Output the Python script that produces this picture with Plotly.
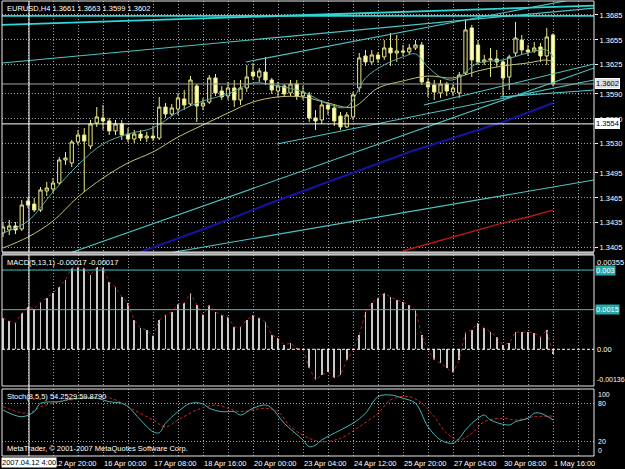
import plotly.graph_objects as go

# ---------------- data ----------------
SYMBOL = "EURUSD,H4"
BARS = list(range(89))
OPEN = [1.34228,1.34264,1.34312,1.34276,1.34612,1.34576,1.34504,1.34733,1.34757,1.34829,
        1.35106,1.35070,1.35322,1.35406,1.35274,1.35551,1.35611,1.35575,1.35455,1.35539,
        1.35418,1.35358,1.35418,1.35370,1.35394,1.35370,1.35743,1.35659,1.35719,1.35840,
        1.35779,1.35996,1.35755,1.35803,1.36092,1.35936,1.35876,1.35972,1.35828,1.35972,
        1.36164,1.36104,1.36164,1.36068,1.35936,1.35996,1.35912,1.36020,1.35876,1.35888,
        1.35611,1.35587,1.35767,1.35731,1.35635,1.35503,1.35623,1.35972,1.36357,1.36285,
        1.36369,1.36345,1.36453,1.36393,1.36417,1.36405,1.36453,1.36489,1.36044,1.36008,
        1.35912,1.36020,1.35924,1.35912,1.36152,1.36694,1.36489,1.36285,1.36309,1.36321,
        1.36285,1.36104,1.36393,1.36549,1.36429,1.36417,1.36465,1.36357,1.3661]
HIGH = [1.34360,1.34384,1.34360,1.34625,1.34661,1.34649,1.34781,1.34841,1.34889,1.35142,
        1.35202,1.35346,1.35467,1.35491,1.35587,1.35743,1.35767,1.35611,1.35587,1.35587,
        1.35491,1.35467,1.35467,1.35443,1.35515,1.35864,1.35791,1.35779,1.35912,1.35948,
        1.36116,1.36020,1.35852,1.36128,1.36140,1.35996,1.36044,1.36068,1.36068,1.36249,
        1.36273,1.36213,1.36345,1.36092,1.36044,1.36020,1.36068,1.36068,1.35996,1.35924,
        1.35707,1.35828,1.35803,1.35779,1.35683,1.35683,1.35924,1.36393,1.36429,1.36429,
        1.36405,1.36549,1.36633,1.36609,1.36489,1.36501,1.36549,1.36525,1.36092,1.36068,
        1.36068,1.36044,1.36020,1.36164,1.36790,1.36730,1.36549,1.36369,1.36453,1.36429,
        1.36309,1.36369,1.36766,1.36609,1.36489,1.36525,1.36513,1.36694,1.3663]
LOW = [1.34179,1.34203,1.34215,1.34252,1.34528,1.34480,1.34480,1.34673,1.34709,1.34805,
       1.35046,1.35021,1.35286,1.34721,1.35238,1.35503,1.35467,1.35406,1.35406,1.35346,
       1.35322,1.35310,1.35334,1.35322,1.35334,1.35346,1.35611,1.35635,1.35647,1.35707,
       1.35755,1.35563,1.35707,1.35779,1.35876,1.35828,1.35828,1.35743,1.35767,1.35924,
       1.36068,1.36044,1.36008,1.35900,1.35864,1.35864,1.35876,1.35828,1.35828,1.35563,
       1.35467,1.35539,1.35647,1.35515,1.35467,1.35491,1.35587,1.35924,1.36237,1.36249,
       1.36273,1.36309,1.36237,1.36285,1.36357,1.36369,1.36429,1.36008,1.35864,1.35828,
       1.35852,1.35876,1.35876,1.35852,1.36128,1.36104,1.36249,1.36249,1.36104,1.36225,
       1.35864,1.35948,1.36357,1.36369,1.36357,1.36393,1.36285,1.36249,1.3599]
CLOSE = [1.34300,1.34312,1.34264,1.34564,1.34564,1.34504,1.34745,1.34769,1.34829,1.35106,
         1.35130,1.35322,1.35406,1.35334,1.35539,1.35623,1.35575,1.35455,1.35539,1.35406,
         1.35358,1.35418,1.35370,1.35394,1.35370,1.35743,1.35659,1.35731,1.35852,1.35767,
         1.36068,1.35755,1.35791,1.36092,1.35912,1.35864,1.35972,1.35828,1.35972,1.36104,
         1.36116,1.36177,1.36068,1.35948,1.35996,1.35900,1.36020,1.35876,1.35924,1.35611,
         1.35575,1.35767,1.35719,1.35575,1.35503,1.35647,1.35888,1.36333,1.36285,1.36369,
         1.36321,1.36453,1.36393,1.36417,1.36405,1.36453,1.36489,1.36044,1.35984,1.35924,
         1.36020,1.35936,1.35972,1.36128,1.36670,1.36309,1.36285,1.36309,1.36321,1.36285,
         1.36092,1.36345,1.36573,1.36429,1.36405,1.36453,1.36357,1.36585,1.3602]

FAST_MA_BARS = [0,4,8,12,16,20,24,28,32,36,40,44,48,52,55,58,61,64,66,68,70,72,74,76,80,84,87,88]
FAST_MA = [1.34227,1.34372,1.34721,1.35046,1.35298,1.35418,1.35491,1.35683,1.35815,1.35900,
           1.36032,1.35996,1.35924,1.35779,1.35743,1.36092,1.36249,1.36345,1.36381,1.36224,
           1.36104,1.36068,1.36164,1.36273,1.36309,1.36393,1.36429,1.36345]
SLOW_MA_BARS = [0,4,8,12,16,20,24,28,32,36,40,44,48,52,56,60,64,68,72,76,80,84,87,88]
SLOW_MA = [1.34047,1.34179,1.34372,1.34661,1.34889,1.35070,1.35202,1.35382,1.35527,1.35671,
           1.35803,1.35864,1.35864,1.35791,1.35743,1.35972,1.36056,1.36116,1.36092,1.36177,
           1.36237,1.36273,1.36309,1.36285]
BLUE_MA_BARS = [22,33,42,53,65,72,80,88]
BLUE_MA = [1.33999,1.34300,1.34564,1.34865,1.35202,1.35370,1.35563,1.35791]
RED_MA_BARS = [64,72,80,84,88]
RED_MA = [1.34011,1.34179,1.34348,1.34420,1.34504]

# trend lines: (bar1, price1, bar2, price2)
TL_HORIZ = [(-1.0, 1.3684, 96.0, 1.3684)]
TL_BRIGHT = [(-0.16, 1.36730, 94.56, 1.36962)]
TL_LINES = [(-0.16, 1.36273, 94.56, 1.36932),
            (38.88, 1.36285, 94.56, 1.37085),
            (67.36, 1.35767, 94.56, 1.36261),
            (43.84, 1.35298, 94.56, 1.36068),
            (79.52, 1.35864, 94.56, 1.35948),
            (10.72, 1.33987, 94.56, 1.36212),
            (26.56, 1.33987, 94.56, 1.34865)]

MACD = [0.001184,0.001071,0.000995,0.001373,0.0016,0.001525,0.001789,0.001941,0.00213,0.002357,
        0.002622,0.003076,0.003114,0.003076,0.002811,0.003114,0.003076,0.002546,0.002357,0.001979,
        0.001752,0.001108,0.000806,0.00073,0.000503,0.001108,0.001298,0.001411,0.001714,0.001752,
        0.00213,0.001676,0.001298,0.001676,0.001411,0.001298,0.001222,0.000844,0.000844,0.001108,
        0.001298,0.001184,0.001033,0.000541,0.000427,0.000163,0.000238,0.000049,-0.000026,-0.000707,
        -0.001161,-0.000972,-0.000859,-0.001086,-0.000972,-0.000405,-0.000026,0.000541,0.001411,0.001752,
        0.001941,0.00213,0.001979,0.001865,0.001789,0.001676,0.001487,0.000541,-0.000026,-0.000405,
        -0.000518,-0.000707,-0.000897,-0.000405,0.000654,0.00073,0.000995,0.000806,0.000654,0.000465,
        0.000163,0.000238,0.000654,0.000654,0.000654,0.000617,0.000465,0.00073,-0.00017]
MACD_SIGNAL = MACD  # signal period 1 -> identical to main
MACD_LEVELS = [0.003, 0.0015]
MACD_LEVEL_LABELS = ["0.003", "0.0015"]
MACD_AXIS_VALS = [0.00355, 0.0, -0.00136]
MACD_AXIS_TEXT = ["0.00355", "0.00", "-0.00136"]

STOCH_MAIN_BARS = [0,3,5,6,9,10,12,15,17,19,20,22,24,25,26,28,30,32,33,35,37,38,40,42,43,45,48,49,50,51,
                   54,56,58,60,62,64,66,68,70,72,73,74,76,77,78,81,82,84,85,86,88]
STOCH_MAIN = [69.5,59,66.9,80,82.5,85,87.8,87.8,82.5,80,74.7,53.9,35.6,34,48.8,66.9,80,78.9,72.2,66.9,
              66.9,61.7,72.2,77.3,72.2,48.8,22.7,12.2,14.8,22.7,38.3,48.8,64.4,90.3,93,87.8,80,43.4,22.7,17.5,
              25.3,38.3,56.6,61.7,53.9,46.1,51.3,56.6,64.4,64.4,54.2529]
STOCH_SIG_BARS = [0,4,6,10,13,16,18,21,24,26,28,31,34,36,38,42,44,46,49,51,54,57,60,62,65,67,69,71,73,75,
                  77,80,82,85,88]
STOCH_SIG = [74.7,64.4,74.7,84,87.8,90.3,85.2,69.5,53.9,43.4,53.9,69.5,77.3,72.2,66.9,72.2,66.9,43.4,25.3,20,
             25.3,43.4,64.4,85.2,90.3,80,59,33.1,22.7,33.1,51.3,56.6,53.9,59,59.879]
STOCH_LEVELS = [20, 80]
STOCH_AXIS_VALS = [100, 80, 20, 0]

PRICE_TICKS = [1.3405, 1.3435, 1.3465, 1.3495, 1.3530, 1.3560, 1.3590, 1.3625, 1.3655, 1.3685]
TIME_LABEL_BARS = [8, 16, 24, 32, 40, 48, 56, 64, 72, 80, 88]
TIME_LABELS = ["12 Apr 20:00", "16 Apr 00:00", "17 Apr 08:00", "18 Apr 16:00", "20 Apr 00:00",
               "23 Apr 04:00", "24 Apr 12:00", "25 Apr 20:00", "27 Apr 04:00", "30 Apr 08:00",
               "1 May 16:00"]
GRID_BARS = list(range(4, 96, 4))
CROSS_BAR = 4.16
CROSS_PRICE = 1.3554
CROSS_DATE = "2007.04.12 4:00"
COPYRIGHT = "MetaTrader, © 2001-2007 MetaQuotes Software Corp."

# ---------------- geometry / style ----------------
W, H = 625, 469
PT, PB = 1, 456
def frac(ypx):
    return (PB - ypx) / (PB - PT)
MAIN_DOM = [frac(252), 1.0]
MACD_DOM = [frac(386), frac(255)]
STOCH_DOM = [0.0, frac(389)]
XR = [-0.16, 94.56]
FONT = "Liberation Sans"
FS = 7.5
GRID = "#9ca2aa"
GDASH = "1px,2px"
CANDLE_LINE = "#E8E888"
BEAR_FILL = "#FFFFB4"
TREND = "#4cc4c4"

fig = go.Figure()

# trend lines (main)
for (b1, p1, b2, p2) in TL_LINES:
    fig.add_trace(go.Scatter(x=[b1, b2], y=[p1, p2], mode="lines",
                             line=dict(color=TREND, width=1.1), xaxis="x", yaxis="y"))
for (b1, p1, b2, p2) in TL_HORIZ + TL_BRIGHT:
    fig.add_trace(go.Scatter(x=[b1, b2], y=[p1, p2], mode="lines",
                             line=dict(color="#2fd6d6", width=1.8), xaxis="x", yaxis="y"))
fig.add_trace(go.Scatter(x=BLUE_MA_BARS, y=BLUE_MA, mode="lines",
                         line=dict(color="#1414a0", width=2), xaxis="x", yaxis="y"))
fig.add_trace(go.Scatter(x=RED_MA_BARS, y=RED_MA, mode="lines",
                         line=dict(color="#b81818", width=1.3), xaxis="x", yaxis="y"))
fig.add_trace(go.Scatter(x=SLOW_MA_BARS, y=SLOW_MA, mode="lines", line_shape="spline",
                         line=dict(color="#c8c070", width=1), xaxis="x", yaxis="y"))
fig.add_trace(go.Scatter(x=FAST_MA_BARS, y=FAST_MA, mode="lines", line_shape="spline",
                         line=dict(color="#5aa8a8", width=1), xaxis="x", yaxis="y"))
fig.add_trace(go.Candlestick(x=BARS, open=OPEN, high=HIGH, low=LOW, close=CLOSE,
                             increasing=dict(line=dict(color=CANDLE_LINE, width=1), fillcolor="#000000"),
                             decreasing=dict(line=dict(color=CANDLE_LINE, width=1), fillcolor=BEAR_FILL),
                             whiskerwidth=0, xaxis="x", yaxis="y", hoverinfo="skip"))

# MACD
fig.add_trace(go.Bar(x=BARS, y=MACD, width=0.3, marker=dict(color="#c8c8c8", line=dict(width=0)),
                     xaxis="x2", yaxis="y2"))
fig.add_trace(go.Scatter(x=BARS, y=MACD_SIGNAL, mode="lines",
                         line=dict(color="#a82020", width=1, dash="dot"), xaxis="x2", yaxis="y2"))

# Stochastic
fig.add_trace(go.Scatter(x=STOCH_SIG_BARS, y=STOCH_SIG, mode="lines", line_shape="spline",
                         line=dict(color="#c02828", width=1, dash="3px,2px"), xaxis="x3", yaxis="y3"))
fig.add_trace(go.Scatter(x=STOCH_MAIN_BARS, y=STOCH_MAIN, mode="lines", line_shape="spline",
                         line=dict(color="#48b4b4", width=1), xaxis="x3", yaxis="y3"))

xcommon = dict(range=XR, showticklabels=False, showgrid=True, gridcolor=GRID, griddash=GDASH,
               gridwidth=1, tickvals=GRID_BARS, zeroline=False, showline=False, fixedrange=True)
fig.update_layout(
    width=W, height=H, paper_bgcolor="black", plot_bgcolor="black",
    margin=dict(l=2, r=W - 594, t=PT, b=H - PB),
    showlegend=False, hovermode=False, bargap=0, boxgap=0.25,
    font=dict(family=FONT, size=FS, color="white"),
    xaxis=dict(anchor="y", rangeslider=dict(visible=False), **xcommon),
    xaxis2=dict(anchor="y2", matches="x", **xcommon),
    xaxis3=dict(anchor="y3", matches="x", **xcommon),
    yaxis=dict(domain=MAIN_DOM, range=[1.33999, 1.37018], side="right", tickvals=PRICE_TICKS,
               ticktext=[f"{v:.4f}" for v in PRICE_TICKS], ticks="outside", ticklen=3,
               tickcolor="white", showgrid=True, gridcolor=GRID, griddash=GDASH, zeroline=False,
               tickfont=dict(size=FS, color="white", family=FONT), fixedrange=True),
    yaxis2=dict(domain=MACD_DOM, range=[-0.00139, 0.00357], side="right", showticklabels=False,
                showgrid=False, zeroline=False, ticks="", fixedrange=True),
    yaxis3=dict(domain=STOCH_DOM, range=[-2.3, 102.3], side="right", showticklabels=False,
                tickvals=STOCH_LEVELS, showgrid=True, gridcolor=GRID, griddash=GDASH,
                zeroline=False, ticks="", fixedrange=True),
)

shapes = []
# MACD zero line and levels
shapes.append(dict(type="line", xref="x2 domain", yref="y2", x0=0, x1=1, y0=0, y1=0,
                   line=dict(color="white", width=1, dash="3px,2px")))
for lv in MACD_LEVELS:
    shapes.append(dict(type="line", xref="x2 domain", yref="y2", x0=0, x1=1, y0=lv, y1=lv,
                       line=dict(color="#40c0c0", width=1)))
# bid line
shapes.append(dict(type="line", xref="x domain", yref="y", x0=0, x1=1, y0=CLOSE[-1], y1=CLOSE[-1],
                   line=dict(color="#a0a0a0", width=1)))
# crosshair
shapes.append(dict(type="line", xref="x domain", yref="y", x0=0, x1=1, y0=CROSS_PRICE, y1=CROSS_PRICE,
                   line=dict(color="white", width=1)))
shapes.append(dict(type="line", xref="x", yref="paper", x0=CROSS_BAR, x1=CROSS_BAR, y0=0, y1=1,
                   line=dict(color="white", width=1)))
# separator and frames
shapes.append(dict(type="rect", xref="paper", yref="paper", x0=0, x1=1, y0=MACD_DOM[1], y1=MAIN_DOM[0],
                   fillcolor="#a0a0a0", line=dict(width=0), layer="above"))
for dom in (MAIN_DOM, MACD_DOM, STOCH_DOM):
    shapes.append(dict(type="rect", xref="paper", yref="paper", x0=0, x1=1, y0=dom[0], y1=dom[1],
                       line=dict(color="#e8e8e8", width=1), layer="above"))
fig.update_layout(shapes=shapes)

ann = []
def txt(text, **kw):
    d = dict(text=text, showarrow=False, font=dict(size=FS, color="white", family=FONT))
    d.update(kw)
    ann.append(d)

txt(f"{SYMBOL} {OPEN[-1]:.4f} {HIGH[-1]:.4f} {LOW[-1]:.4f} {CLOSE[-1]:.4f}",
    xref="paper", yref="paper", x=0, y=1, xanchor="left", yanchor="top", xshift=3, yshift=-1)
txt(f"MACD(5,13,1) {MACD[-1]:.5f} {MACD_SIGNAL[-1]:.5f}",
    xref="paper", yref="y2 domain", x=0, y=1, xanchor="left", yanchor="top", xshift=3, yshift=-1)
txt(f"Stoch(8,5,5) {STOCH_MAIN[-1]:.4f} {STOCH_SIG[-1]:.4f}",
    xref="paper", yref="y3 domain", x=0, y=1, xanchor="left", yanchor="top", xshift=3, yshift=-1)
txt(COPYRIGHT, xref="paper", yref="y3 domain", x=0, y=0, xanchor="left", yanchor="bottom",
    xshift=3, yshift=1)

# MACD axis labels
for v, t in zip(MACD_AXIS_VALS, MACD_AXIS_TEXT):
    ya = "top" if v > 0.001 else ("bottom" if v < 0 else "middle")
    txt(t, xref="paper", yref="y2", x=1, y=v, xanchor="left", yanchor=ya, xshift=1,
        font=dict(size=7 if v < 0 else FS, color="white", family=FONT))
for v, t in zip(MACD_LEVELS, MACD_LEVEL_LABELS):
    txt(t, xref="paper", yref="y2", x=1, y=v, xanchor="left", yanchor="middle", xshift=1,
        bgcolor="#2aa8a8", borderpad=0, font=dict(size=FS, color="white", family=FONT))
# Stoch axis labels
for v in STOCH_AXIS_VALS:
    ya = "top" if v == 100 else ("bottom" if v == 0 else "middle")
    ys = 1.5 if v == 100 else (-1.5 if v == 0 else 0)
    txt(str(v), xref="paper", yref="y3", x=1, y=v, xanchor="left", yanchor=ya, xshift=2, yshift=ys,
        font=dict(size=7, color="white", family=FONT))

# price boxes
txt(f"{CLOSE[-1]:.4f}", xref="paper", yref="y", x=1, y=CLOSE[-1], xanchor="left", yanchor="middle",
    xshift=1, bgcolor="#e0e0e0", bordercolor="white", borderwidth=1, borderpad=0,
    font=dict(size=FS, color="black", family=FONT))
txt(f"{CROSS_PRICE:.4f}", xref="paper", yref="y", x=1, y=CROSS_PRICE, xanchor="left", yanchor="middle",
    xshift=1, bgcolor="white", bordercolor="white", borderwidth=1, borderpad=0,
    font=dict(size=FS, color="black", family=FONT))

# time labels
for b, t in zip(TIME_LABEL_BARS, TIME_LABELS):
    txt(t, xref="x3", yref="paper", x=b, y=0, xanchor="left", yanchor="top", xshift=-1, yshift=-1)
txt(CROSS_DATE, xref="x3", yref="paper", x=CROSS_BAR, y=0, xanchor="center", yanchor="top",
    yshift=-1, bgcolor="white", borderpad=0, font=dict(size=FS, color="black", family=FONT))

fig.update_layout(annotations=ann)
fig.write_html("out.html", config={"displayModeBar": False, "staticPlot": True})
